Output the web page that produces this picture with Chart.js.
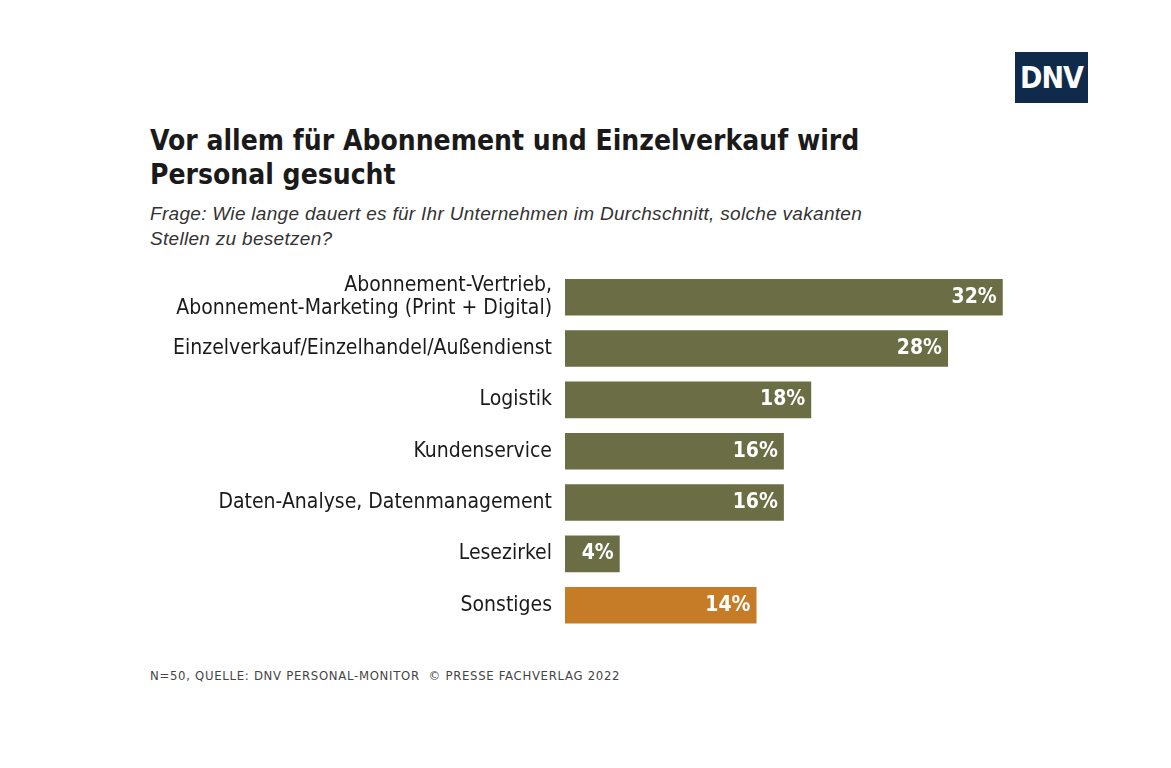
<!DOCTYPE html>
<html><head><meta charset="utf-8">
<script src="https://cdn.jsdelivr.net/npm/chart.js@4"></script>
<style>
body{margin:0;width:1171px;height:768px;background:#fff;position:relative;overflow:hidden;font-family:"DejaVu Sans Condensed","DejaVu Sans",sans-serif;color:#1a1a1a}
#logo{position:absolute;left:1015px;top:52px;width:73px;height:51px;background:#0f2a4a;color:#fff;font:bold 30px "DejaVu Sans Condensed";display:flex;align-items:center;justify-content:center;letter-spacing:-1px}
#title{position:absolute;left:150px;top:124px;font-weight:bold;font-size:28px;line-height:34px}
#sub{position:absolute;left:150px;top:201px;font-style:italic;font-size:19px;line-height:25px;color:#333;font-family:"Liberation Sans",sans-serif;letter-spacing:0.3px}
#foot{position:absolute;left:150px;top:668px;font-size:13px;letter-spacing:0.7px;color:#444}
#wrap{position:absolute;left:0;top:255px;width:1171px;height:404px}
</style></head><body>
<div id="logo">DNV</div>
<div id="title">Vor allem für Abonnement und Einzelverkauf wird<br>Personal gesucht</div>
<div id="sub">Frage: Wie lange dauert es für Ihr Unternehmen im Durchschnitt, solche vakanten<br>Stellen zu besetzen?</div>
<div id="foot">N=50, QUELLE: DNV PERSONAL-MONITOR &nbsp;© PRESSE FACHVERLAG 2022</div>
<div id="wrap"><canvas id="c"></canvas></div>
<script>
const categories = [["Abonnement-Vertrieb,", "Abonnement-Marketing (Print + Digital)"], "Einzelverkauf/Einzelhandel/Außendienst", "Logistik", "Kundenservice", "Daten-Analyse, Datenmanagement", "Lesezirkel", "Sonstiges"];
const values = [32, 28, 18, 16, 16, 4, 14];
const barColors = ["#6b6e45", "#6b6e45", "#6b6e45", "#6b6e45", "#6b6e45", "#6b6e45", "#c67c27"];

const valueLabels = {
  id: 'valueLabels',
  afterDatasetsDraw(chart) {
    const ctx = chart.ctx;
    ctx.save();
    ctx.fillStyle = '#fff';
    ctx.font = 'bold 21px "DejaVu Sans Condensed"';
    ctx.textAlign = 'right';
    ctx.textBaseline = 'middle';
    chart.getDatasetMeta(0).data.forEach((bar, i) => {
      ctx.fillText(values[i] + '%', bar.x - 6, bar.y);
    });
    ctx.restore();
  }
};

new Chart(document.getElementById('c'), {
  type: 'bar',
  data: { labels: categories, datasets: [{ data: values, backgroundColor: barColors, barPercentage: 0.713, categoryPercentage: 1 }] },
  options: {
    indexAxis: 'y', responsive: true, maintainAspectRatio: false, animation: false,
    layout: { padding: 0 },
    plugins: { legend: { display: false }, tooltip: { enabled: false } },
    scales: {
      x: { display: false, min: 0, max: 44.3 },
      y: {
        grid: { display: false }, border: { display: false },
        afterFit(s) { s.width = 565; },
        ticks: { color: '#1a1a1a', font: { size: 21, family: '"DejaVu Sans Condensed"', lineHeight: 1.1 }, padding: 5 }
      }
    }
  },
  plugins: [valueLabels]
});
</script>
</body></html>
